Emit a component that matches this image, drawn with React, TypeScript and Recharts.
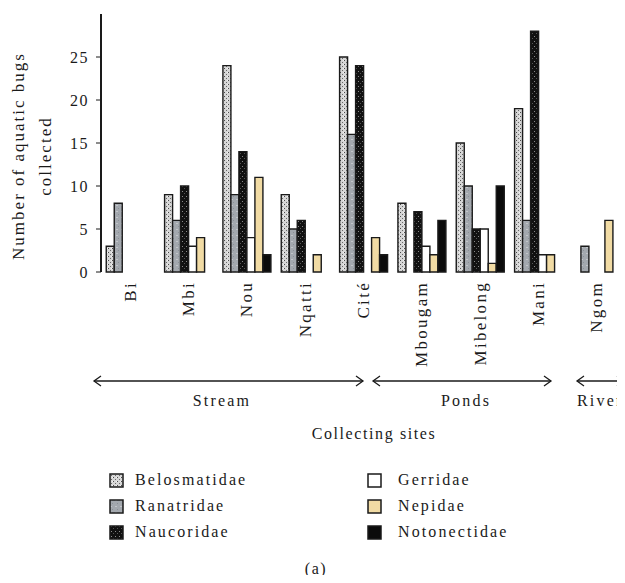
import React from "react";
import { BarChart, Bar, XAxis, YAxis, Legend } from "recharts";

// Aquatic bugs collected per site
const sites = ["Bi", "Mbi", "Nou", "Nqatti", "Cité", "Mbougam", "Mibelong", "Mani", "Ngom"];
const belosmatidae = [3, 9, 24, 9, 25, 8, 15, 19, 0];
const ranatridae = [8, 6, 9, 5, 16, 0, 10, 6, 3];
const naucoridae = [0, 10, 14, 6, 24, 7, 5, 28, 0];
const gerridae = [0, 3, 4, 0, 0, 3, 5, 2, 0];
const nepidae = [0, 4, 11, 2, 4, 2, 1, 2, 6];
const notonectidae = [0, 0, 2, 0, 2, 6, 10, 0, 0];
const yTicks = [0, 5, 10, 15, 20, 25];
const edgeTicks = [0, 1, 2, 3, 4, 5, 6, 7, 8, 9];

const data = sites.map((site, i) => ({
  site,
  belosmatidae: belosmatidae[i],
  ranatridae: ranatridae[i],
  naucoridae: naucoridae[i],
  gerridae: gerridae[i],
  nepidae: nepidae[i],
  notonectidae: notonectidae[i],
}));

const series = [
  { key: "belosmatidae", name: "Belosmatidae", fill: "url(#patBelo)" },
  { key: "ranatridae", name: "Ranatridae", fill: "url(#patRana)" },
  { key: "naucoridae", name: "Naucoridae", fill: "url(#patNauco)" },
  { key: "gerridae", name: "Gerridae", fill: "#ffffff" },
  { key: "nepidae", name: "Nepidae", fill: "#f1dba4" },
  { key: "notonectidae", name: "Notonectidae", fill: "#0b0b0b" },
];

const FONT = "Liberation Serif";
const INK = "#1a1a1a";

const SiteTick = (props: any) => {
  const { x, y, payload } = props;
  return (
    <text
      transform={`translate(${x},${y + 1}) rotate(-90)`}
      textAnchor="end"
      dy="0.33em"
      fontFamily={FONT}
      fontSize={17}
      letterSpacing={2.3}
      fill={INK}
    >
      {payload.value}
    </text>
  );
};

const LegendBox = () => {
  const col = (items: typeof series, left: number, textLeft: number) =>
    items.map((s, i) => (
      <div
        key={s.key}
        style={{ position: "absolute", left, top: i * 26, height: 20, display: "flex", alignItems: "center" }}
      >
        <svg width={15} height={15} style={{ display: "block" }}>
          <rect x={1} y={1} width={13} height={13} fill={s.fill} stroke={INK} strokeWidth={1.5} />
        </svg>
        <span
          style={{
            position: "absolute",
            left: textLeft - left,
            whiteSpace: "nowrap",
            fontFamily: FONT,
            fontSize: 16,
            letterSpacing: 2.1,
            color: INK,
          }}
        >
          {s.name}
        </span>
      </div>
    ));
  return (
    <div style={{ position: "relative", width: 500, height: 80 }}>
      {col(series.slice(0, 3), 0, 26)}
      {col(series.slice(3), 258, 289)}
    </div>
  );
};

const Arrow = ({ x1, x2, y }: { x1: number; x2: number; y: number }) => (
  <g stroke={INK} strokeWidth={1.3} fill="none">
    <line x1={x1} y1={y} x2={x2} y2={y} />
    <polyline points={`${x1 + 7},${y - 5} ${x1},${y} ${x1 + 7},${y + 5}`} />
    <polyline points={`${x2 - 7},${y - 5} ${x2},${y} ${x2 - 7},${y + 5}`} />
  </g>
);

const App: React.FC = () => {
  return (
    <div style={{ margin: -8, position: "relative", width: 630, height: 583, background: "#fff" }}>
      <BarChart
        width={630}
        height={583}
        data={data}
        margin={{ top: 14, right: 4, left: 0, bottom: 0 }}
        barCategoryGap="9%"
        barGap={0}
      >
        <defs>
          <pattern id="patBelo" width={4} height={4} patternUnits="userSpaceOnUse">
            <rect width={4} height={4} fill="#d6d6d6" />
            <rect x={0} y={0} width={1} height={1} fill="#4a4a4a" />
            <rect x={2} y={2} width={1} height={1} fill="#6a6a6a" />
            <rect x={3} y={0} width={1} height={1} fill="#f4f4f4" />
          </pattern>
          <pattern id="patRana" width={5} height={6} patternUnits="userSpaceOnUse">
            <rect width={5} height={6} fill="#a3a8ae" />
            <rect x={1} y={1} width={2} height={1} fill="#c3c6ca" />
            <rect x={3} y={4} width={1} height={1} fill="#8a8f95" />
          </pattern>
          <pattern id="patNauco" width={4} height={5} patternUnits="userSpaceOnUse">
            <rect width={4} height={5} fill="#111" />
            <rect x={2} y={1} width={1} height={1} fill="#8a8a8a" />
            <rect x={0} y={3} width={1} height={1} fill="#555" />
          </pattern>
        </defs>
        <XAxis
          xAxisId="edges"
          type="number"
          domain={[0, 9]}
          ticks={edgeTicks}
          tick={false}
          tickSize={4}
          height={0}
          axisLine={{ stroke: INK, strokeWidth: 2 }}
          tickLine={{ stroke: INK }}
        />
        <XAxis
          dataKey="site"
          interval={0}
          axisLine={false}
          tickLine={false}
          tick={<SiteTick />}
          height={311}
        />
        <YAxis
          width={101}
          domain={[0, 30]}
          ticks={yTicks}
          interval={0}
          tickSize={5}
          tickMargin={7}
          axisLine={{ stroke: INK, strokeWidth: 2 }}
          tickLine={{ stroke: INK }}
          tick={{ fontFamily: FONT, fontSize: 16, fill: INK, letterSpacing: 1.5 } as any}
        />
        <Legend
          layout="horizontal"
          verticalAlign="middle"
          align="center"
          content={<LegendBox />}
          wrapperStyle={{ left: 109, top: 470, width: 500, height: 80 }}
        />
        {series.map((s) => (
          <Bar
            key={s.key}
            dataKey={s.key}
            name={s.name}
            fill={s.fill}
            stroke={INK}
            strokeWidth={1.4}
            isAnimationActive={false}
          />
        ))}
      </BarChart>
      <svg
        width={630}
        height={583}
        style={{ position: "absolute", left: 0, top: 0, pointerEvents: "none" }}
        fontFamily={FONT}
        fill={INK}
      >
        <text transform="translate(24,156) rotate(-90)" textAnchor="middle" fontSize={17} letterSpacing={2}>
          Number of aquatic bugs
        </text>
        <text transform="translate(51,156) rotate(-90)" textAnchor="middle" fontSize={17} letterSpacing={2}>
          collected
        </text>
        <Arrow x1={94} x2={363} y={381} />
        <Arrow x1={373} x2={551} y={381} />
        <Arrow x1={577} x2={624} y={381} />
        <text x={222} y={406} textAnchor="middle" fontSize={16} letterSpacing={2.2}>Stream</text>
        <text x={466} y={406} textAnchor="middle" fontSize={16} letterSpacing={2.2}>Ponds</text>
        <text x={577} y={406} fontSize={16} letterSpacing={2.2}>River</text>
        <text x={374} y={439} textAnchor="middle" fontSize={16} letterSpacing={1.6}>Collecting sites</text>
        <text x={316} y={574} textAnchor="middle" fontSize={16} letterSpacing={1.6}>(a)</text>
      </svg>
    </div>
  );
};

export default App;
